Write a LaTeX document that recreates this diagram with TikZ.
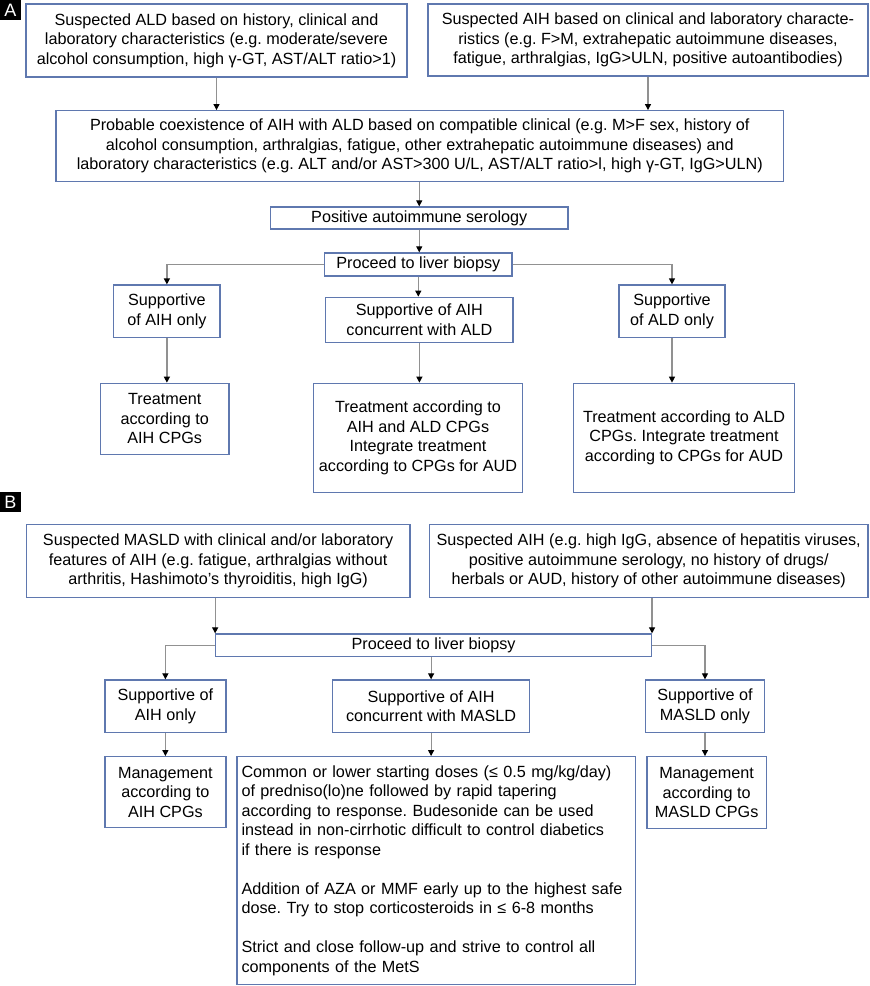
\documentclass[tikz,border=0pt]{standalone}
\usepackage{fontspec}
\setmainfont{Liberation Sans}
\usetikzlibrary{arrows.meta}
\definecolor{bcol}{RGB}{95,120,175}
\definecolor{lcol}{RGB}{145,145,145}
\frenchspacing
\begin{document}
\begin{tikzpicture}[x=1pt,y=-1pt,
 box/.style={draw=bcol, line width=1.3pt, inner sep=0pt, align=center, font=\fontsize{16.2}{19.5}\selectfont},
 conn/.style={draw=lcol, line width=1.2pt, -{Triangle[width=6pt,length=6pt,color=black,fill=black]}},
 lbl/.style={fill=black, text=white, inner sep=0pt, minimum width=21pt, minimum height=20pt, font=\fontsize{18}{18}\selectfont}]
\useasboundingbox (0,0) rectangle (870,986);
% labels
\node[lbl] (la) at (10.5,10) {A};
\node[lbl] (lb) at (10.5,502.2) {B};
% Panel A
\node[box, minimum width=381pt, minimum height=73pt] (a1) at (216.5,40.5)
 {Suspected ALD based on history, clinical and\\laboratory characteristics (e.g. moderate/severe\\alcohol consumption, high γ-GT, AST/ALT ratio>1)};
\node[box, minimum width=440pt, minimum height=72pt] (a2) at (648,40)
 {Suspected AIH based on clinical and laboratory characte-\\ristics (e.g. F>M, extrahepatic autoimmune diseases,\\fatigue, arthralgias, IgG>ULN, positive autoantibodies)};
\node[box, minimum width=727.6pt, minimum height=71pt] (a3) at (419.8,146.2)
 {Probable coexistence of AIH with ALD based on compatible clinical (e.g. M>F sex, history of\\alcohol consumption, arthralgias, fatigue, other extrahepatic autoimmune diseases) and\\laboratory characteristics (e.g. ALT and/or AST>300 U/L, AST/ALT ratio>l, high γ-GT, IgG>ULN)};
\node[box, minimum width=297.5pt, minimum height=22pt] (a4) at (419.25,218) {Positive autoimmune serology};
\node[box, minimum width=187.4pt, minimum height=23pt] (a5) at (418.3,264.5) {Proceed to liver biopsy};
\node[box, minimum width=106.2pt, minimum height=52.3pt] (a6) at (166.9,311.2) {Supportive\\of AIH only};
\node[box, minimum width=187.3pt, minimum height=45pt] (a7) at (419.4,319.8) {Supportive of AIH\\concurrent with ALD};
\node[box, minimum width=106pt, minimum height=52.3pt] (a8) at (672,311.2) {Supportive\\of ALD only};
\node[box, minimum width=128.6pt, minimum height=71pt] (a9) at (164.7,418.8) {Treatment\\according to\\AIH CPGs};
\node[box, minimum width=209.2pt, minimum height=109pt] (a10) at (418,437.8)
 {Treatment according to\\AIH and ALD CPGs\\Integrate treatment\\according to CPGs for AUD};
\node[box, minimum width=221.4pt, minimum height=109pt] (a11) at (684,437.8)
 {Treatment according to ALD\\CPGs. Integrate treatment\\according to CPGs for AUD};
\draw[conn] (a1.south) -- (a1.south |- a3.north);
\draw[conn] (a2.south) -- (a2.south |- a3.north);
\draw[conn] (a3.south -| a4.north) -- (a4.north);
\draw[conn] (a4.south) -- (a4.south |- a5.north);
\draw[conn] (a5.west) -| (a6.north);
\draw[conn] (a5.east) -| (a8.north);
\draw[conn] (a5.south) -- (a5.south |- a7.north);
\draw[conn] (a6.south) -- (a6.south |- a9.north);
\draw[conn] (a7.south) -- (a7.south |- a10.north);
\draw[conn] (a8.south) -- (a8.south |- a11.north);
% Panel B
\node[box, minimum width=383.8pt, minimum height=73.4pt] (b1) at (218.1,561)
 {Suspected MASLD with clinical and/or laboratory\\features of AIH (e.g. fatigue, arthralgias without\\arthritis, Hashimoto's thyroiditis, high IgG)};
\node[box, minimum width=438.6pt, minimum height=73.4pt] (b2) at (648.7,561)
 {Suspected AIH (e.g. high IgG, absence of hepatitis viruses,\\positive autoimmune serology, no history of drugs/\\herbals or AUD, history of other autoimmune diseases)};
\node[box, minimum width=435.6pt, minimum height=22.7pt] (b3) at (433.6,645.35) {Proceed to liver biopsy};
\node[box, minimum width=121pt, minimum height=52.3pt] (b4) at (165.4,706.15) {Supportive of\\AIH only};
\node[box, minimum width=197.4pt, minimum height=52.3pt] (b5) at (431.1,706.15) {Supportive of AIH\\concurrent with MASLD};
\node[box, minimum width=119.3pt, minimum height=52.3pt] (b6) at (705,706.15) {Supportive of\\MASLD only};
\node[box, minimum width=121pt, minimum height=70.6pt] (b7) at (165.4,792) {Management\\according to\\AIH CPGs};
\node[box, align=left, text width=389.8pt, inner xsep=4.5pt, minimum width=398.8pt, minimum height=227.6pt] (b8) at (436.4,870.5)
 {Common or lower starting doses (≤ 0.5 mg/kg/day)\\of predniso(lo)ne followed by rapid tapering\\according to response. Budesonide can be used\\instead in non-cirrhotic difficult to control diabetics\\if there is response\\[19.5pt]Addition of AZA or MMF early up to the highest safe\\dose. Try to stop corticosteroids in ≤ 6-8 months\\[19.5pt]Strict and close follow-up and strive to control all\\components of the MetS};
\node[box, minimum width=119.3pt, minimum height=71.6pt] (b9) at (706.65,792.5) {Management\\according to\\MASLD CPGs};
\draw[conn] (b3.north west |- b1.south) -- (b3.north west);
\draw[conn] (b3.north east |- b2.south) -- (b3.north east);
\draw[conn] (b3.west) -| (b4.north);
\draw[conn] (b3.east) -| (b6.north);
\draw[conn] (b5.north |- b3.south) -- (b5.north);
\draw[conn] (b4.south) -- (b4.south |- b7.north);
\draw[conn] (b5.south) -- (b5.south |- b8.north);
\draw[conn] (b6.south) -- (b6.south |- b9.north);
\end{tikzpicture}
\end{document}
